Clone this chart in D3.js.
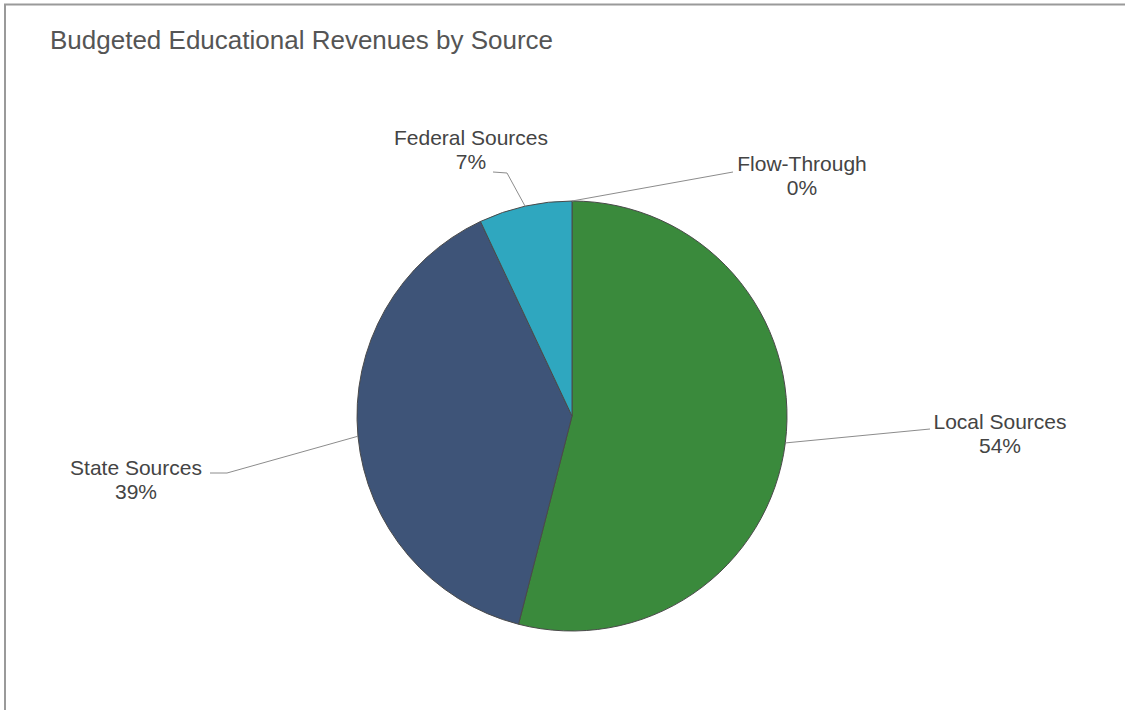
<!DOCTYPE html>
<html>
<head>
<meta charset="utf-8">
<script src="https://cdn.jsdelivr.net/npm/d3@7"></script>
<style>
  html, body { margin: 0; padding: 0; background: #fff; }
  svg { display: block; }
  text { font-family: "Liberation Sans", Arial, sans-serif; }
</style>
</head>
<body>
<svg id="chart" width="1125" height="710"></svg>
<script>
// Revenue shares by source (percent)
const categories = ["Local Sources", "State Sources", "Federal Sources", "Flow-Through"];
const shares = [54, 39, 7, 0];
const colors = ["#3a8a3c", "#3e5478", "#2fa7bf", "#8fbf5a"];

// Label placement, pixel offsets from the pie centre:
// elbow of the leader line, end of the leader line, and label centre / first baseline
const labelLayout = [
  { elbow: [358, 13],   tail: [358, 13],   text: [428, 13] },
  { elbow: [-345, 57],  tail: [-362, 57],  text: [-436, 59] },
  { elbow: [-65, -243], tail: [-79, -244], text: [-101, -271] },
  { elbow: [161, -244], tail: [161, -244], text: [230, -245] }
];

const W = 1125, H = 710;
const cx = 572, cy = 416, radius = 215;

const svg = d3.select("#chart");

// frame
svg.append("line").attr("x1", 4).attr("x2", W).attr("y1", 4.5).attr("y2", 4.5)
  .attr("stroke", "#9a9a9a").attr("stroke-width", 2);
svg.append("line").attr("x1", 5).attr("x2", 5).attr("y1", 4).attr("y2", H)
  .attr("stroke", "#9a9a9a").attr("stroke-width", 2);

// title
svg.append("text")
  .attr("x", 50).attr("y", 49)
  .attr("font-size", 26)
  .attr("fill", "#555")
  .text("Budgeted Educational Revenues by Source");

const pie = d3.pie().sort(null).value(d => d.value);
const arcs = pie(categories.map((c, i) => ({ name: c, value: shares[i], i })));
const arc = d3.arc().innerRadius(0).outerRadius(radius);

const g = svg.append("g").attr("transform", `translate(${cx},${cy})`);

g.selectAll("path.slice")
  .data(arcs.filter(a => a.data.value > 0))
  .join("path")
  .attr("class", "slice")
  .attr("d", arc)
  .attr("fill", d => colors[d.data.i])
  .attr("stroke", "#4a4a4a")
  .attr("stroke-width", 1);

// leader lines and labels
arcs.forEach((a, i) => {
  const mid = (a.startAngle + a.endAngle) / 2;
  const p0 = [radius * Math.sin(mid), -radius * Math.cos(mid)];
  const L = labelLayout[i];
  g.append("polyline")
    .attr("points", [p0, L.elbow, L.tail].map(p => p.join(",")).join(" "))
    .attr("fill", "none")
    .attr("stroke", "#8c8c8c")
    .attr("stroke-width", 1);
  const t = g.append("text")
    .attr("text-anchor", "middle")
    .attr("font-size", 21)
    .attr("fill", "#444");
  t.append("tspan").attr("x", L.text[0]).attr("y", L.text[1]).text(a.data.name);
  t.append("tspan").attr("x", L.text[0]).attr("y", L.text[1] + 24)
    .text(Math.round(a.data.value) + "%");
});
</script>
</body>
</html>
